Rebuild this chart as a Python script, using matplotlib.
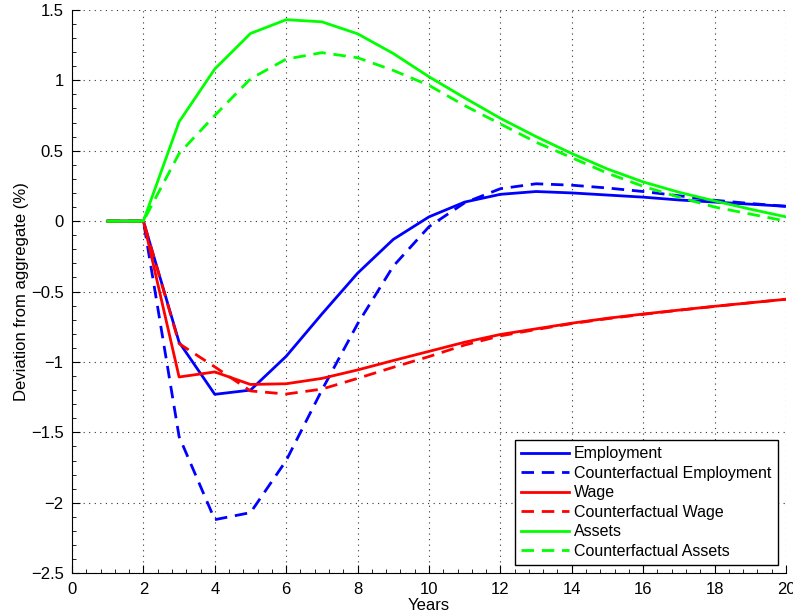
import matplotlib
matplotlib.use("Agg")
import matplotlib.pyplot as plt
from matplotlib.ticker import MultipleLocator, AutoMinorLocator

plt.rcParams['font.family'] = ['Liberation Sans', 'DejaVu Sans']

years = list(range(1, 21))

employment = [0, 0, -0.86, -1.23, -1.20, -0.96, -0.66, -0.37, -0.13, 0.03,
              0.135, 0.19, 0.21, 0.20, 0.185, 0.17, 0.15, 0.135, 0.12, 0.105]
cf_employment = [0, 0, -1.53, -2.12, -2.07, -1.70, -1.20, -0.73, -0.32, -0.04,
                 0.13, 0.23, 0.265, 0.255, 0.235, 0.21, 0.18, 0.148, 0.125, 0.105]
wage = [0, 0, -1.107, -1.071, -1.16, -1.155, -1.117, -1.057, -0.99, -0.925,
        -0.86, -0.805, -0.765, -0.725, -0.69, -0.66, -0.632, -0.605, -0.58, -0.555]
cf_wage = [0, 0, -0.87, -1.035, -1.206, -1.228, -1.193, -1.117, -1.038, -0.962,
           -0.88, -0.815, -0.77, -0.728, -0.693, -0.662, -0.633, -0.606, -0.58, -0.555]
assets = [0, 0, 0.705, 1.08, 1.332, 1.43, 1.415, 1.33, 1.19, 1.025,
          0.875, 0.73, 0.60, 0.48, 0.37, 0.278, 0.205, 0.143, 0.085, 0.03]
cf_assets = [0, 0, 0.48, 0.75, 1.01, 1.15, 1.196, 1.16, 1.07, 0.964,
             0.82, 0.69, 0.56, 0.45, 0.34, 0.247, 0.17, 0.10, 0.05, 0.0]

dash = (0, (4.5, 2.8))

fig = plt.figure(figsize=(7.93, 6.15), dpi=100)
ax = fig.add_axes([0.0908, 0.068, 0.9003, 0.916])

ax.plot(years, employment, color="#0000ff", lw=2, label="Employment")
ax.plot(years, cf_employment, color="#0000ff", lw=2, ls=dash,
        label="Counterfactual Employment")
ax.plot(years, wage, color="#ff0000", lw=2, label="Wage")
ax.plot(years, cf_wage, color="#ff0000", lw=2, ls=dash,
        label="Counterfactual Wage")
ax.plot(years, assets, color="#00ff00", lw=2, label="Assets")
ax.plot(years, cf_assets, color="#00ff00", lw=2, ls=dash,
        label="Counterfactual Assets")

ax.set_xlim(0, 20)
ax.set_ylim(-2.5, 1.5)
ax.xaxis.set_major_locator(MultipleLocator(2))
ax.xaxis.set_minor_locator(AutoMinorLocator(5))
ax.yaxis.set_minor_locator(AutoMinorLocator(5))
ax.set_yticks([-2.5, -2, -1.5, -1, -0.5, 0, 0.5, 1, 1.5])
ax.set_yticklabels(["\u22122.5", "\u22122", "\u22121.5", "\u22121", "\u22120.5",
                    "0", "0.5", "1", "1.5"])

ax.grid(True, which="major", color="#333333", ls=(0, (1, 4)), lw=0.8)
ax.spines["top"].set_visible(False)
ax.spines["right"].set_visible(False)
ax.tick_params(which="major", direction="in", length=6, labelsize=12)
ax.tick_params(axis="x", which="major", pad=6)
ax.tick_params(axis="y", which="major", pad=6)
ax.tick_params(which="minor", direction="in", length=3)

ax.set_xlabel("Years", fontsize=12, labelpad=1)
ax.set_ylabel("Deviation from aggregate (%)", fontsize=12, labelpad=1)

leg = ax.legend(loc="lower right", fontsize=11.5, fancybox=False,
                framealpha=1, edgecolor="black", handlelength=3.0,
                handletextpad=0.3, labelspacing=0.28, borderpad=0.4,
                borderaxespad=0.5)
leg.get_frame().set_linewidth(1)

fig.savefig("out.png", dpi=100)
plt.close(fig)
